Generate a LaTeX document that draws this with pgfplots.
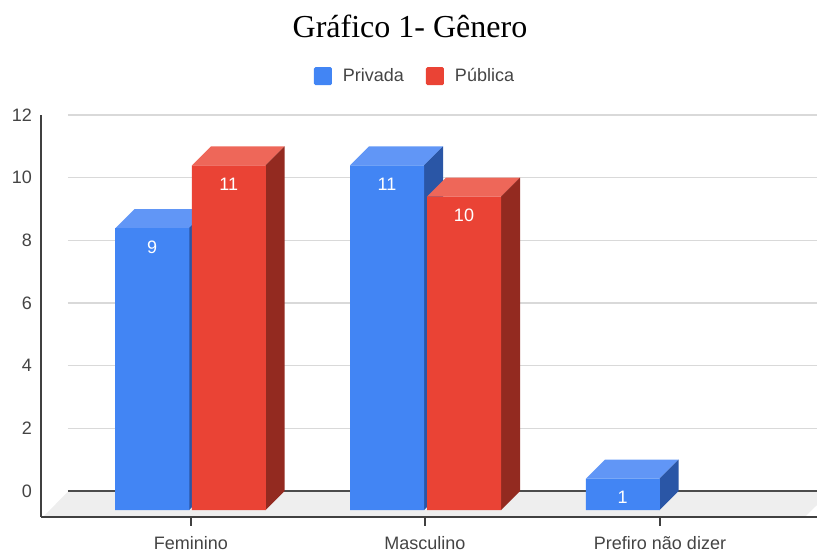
\documentclass[border=0pt]{standalone}
\usepackage{fontspec}
\setmainfont{Liberation Sans}
\newfontfamily\titlefont{Liberation Serif}
\usepackage{pgfplots}
\pgfplotsset{compat=1.18}
\definecolor{bl}{HTML}{4285F4}
\definecolor{blt}{HTML}{6196F6}
\definecolor{bls}{HTML}{2A56A6}
\definecolor{rd}{HTML}{EA4335}
\definecolor{rdt}{HTML}{EE6759}
\definecolor{rds}{HTML}{932A20}
\definecolor{txt}{HTML}{444444}
\definecolor{gridc}{HTML}{D9D9D9}
\definecolor{floorc}{HTML}{EEEEEE}
\begin{document}
\begin{tikzpicture}[x=1pt,y=1pt]
\path[use as bounding box] (0,0) rectangle (817,554);
\begin{axis}[
  at={(41pt,37pt)}, anchor=south west,
  scale only axis, width=776pt, height=402pt,
  xmin=41, xmax=817, ymin=-0.223, ymax=12.607,
  clip=false,
  axis x line=bottom, axis y line=left,
  axis line style={-, color=black!75, line width=1.3pt},
  xtick={191,425,660},
  xticklabels={Feminino,Masculino,Prefiro não dizer},
  ytick={0.606,2.606,4.606,6.606,8.606,10.606,12.606},
  yticklabels={0,2,4,6,8,10,12},
  tick align=outside,
  x tick style={color=black!75, line width=1.2pt},
  major tick length=9pt,
  y tick style={draw=none},
  xtick pos=bottom,
  tick label style={font=\fontsize{18}{20}\selectfont, text=txt},
  /pgf/number format/assume math mode=true,
  x tick label style={yshift=-7pt},
  y tick label style={xshift=3.5pt},
  title={\titlefont\fontsize{32}{36}\selectfont Gráfico 1- Gênero},
  title style={at={(0.4755,1)}, anchor=base, yshift=71pt},
  legend style={at={(axis cs:415,13.85)}, anchor=center, draw=none, fill=none,
    font=\fontsize{18}{20}\selectfont, text=txt, legend columns=2,
    /tikz/every odd column/.append style={column sep=9pt},
    /tikz/every even column/.append style={column sep=20pt}},
]
% floor
\addplot[fill=floorc, draw=none, forget plot] coordinates {(44,-0.19)(68,0.59)(817,0.59)(817,0.16)(806,-0.19)} --cycle;
% gridlines on the back wall
\addplot[gridc, line width=1.3pt, forget plot] coordinates {(68,2.606)(817,2.606)};
\addplot[gridc, line width=1.3pt, forget plot] coordinates {(68,4.606)(817,4.606)};
\addplot[gridc, line width=1.3pt, forget plot] coordinates {(68,6.606)(817,6.606)};
\addplot[gridc, line width=1.3pt, forget plot] coordinates {(68,8.606)(817,8.606)};
\addplot[gridc, line width=1.3pt, forget plot] coordinates {(68,10.606)(817,10.606)};
\addplot[gridc, line width=1.3pt, forget plot] coordinates {(68,12.606)(817,12.606)};
\addplot[black!70, line width=1.3pt, forget plot] coordinates {(68,0.606)(817,0.606)};
% Feminino, Privada: top and side
\addplot[fill=blt, draw=none, forget plot] coordinates {(115.5,9)(134.5,9.606)(208.5,9.606)(189.5,9)} --cycle;
\addplot[fill=bls, draw=none, forget plot] coordinates {(189,9)(208,9.606)(208,0.606)(189,0)} --cycle;
% Masculino, Privada
\addplot[fill=blt, draw=none, forget plot] coordinates {(350,11)(369,11.606)(443,11.606)(424,11)} --cycle;
\addplot[fill=bls, draw=none, forget plot] coordinates {(424,11)(443,11.606)(443,0.606)(424,0)} --cycle;
% Prefiro, Privada
\addplot[fill=blt, draw=none, forget plot] coordinates {(586,1)(605,1.606)(678.5,1.606)(659.5,1)} --cycle;
\addplot[fill=bls, draw=none, forget plot] coordinates {(659.5,1)(678.5,1.606)(678.5,0.606)(659.5,0)} --cycle;
% Privada fronts
\addplot[ybar, bar width=74pt, bar shift=0pt, fill=bl, draw=none,
  legend image code/.code={\fill[bl, rounded corners=1.5pt] (0pt,-9pt) rectangle (18pt,9pt);},
  nodes near coords, every node near coord/.append style={anchor=north, yshift=-9pt, text=white, font=\fontsize{18}{20}\selectfont}]
  coordinates {(152.25,9)(387,11)(622.75,1)};
\addlegendentry{Privada}
% Feminino, Pública
\addplot[fill=rdt, draw=none, forget plot] coordinates {(192,11)(211,11.606)(284.5,11.606)(265.5,11)} --cycle;
\addplot[fill=rds, draw=none, forget plot] coordinates {(265.5,11)(284.5,11.606)(284.5,0.606)(265.5,0)} --cycle;
% Masculino, Pública
\addplot[fill=rdt, draw=none, forget plot] coordinates {(427,10)(446,10.606)(520,10.606)(501,10)} --cycle;
\addplot[fill=rds, draw=none, forget plot] coordinates {(501,10)(520,10.606)(520,0.606)(501,0)} --cycle;
% Pública fronts
\addplot[ybar, bar width=74pt, bar shift=0pt, fill=rd, draw=none,
  legend image code/.code={\fill[rd, rounded corners=1.5pt] (0pt,-9pt) rectangle (18pt,9pt);},
  nodes near coords, every node near coord/.append style={anchor=north, yshift=-9pt, text=white, font=\fontsize{18}{20}\selectfont}]
  coordinates {(228.75,11)(464,10)};
\addlegendentry{Pública}
\end{axis}
\end{tikzpicture}
\end{document}
